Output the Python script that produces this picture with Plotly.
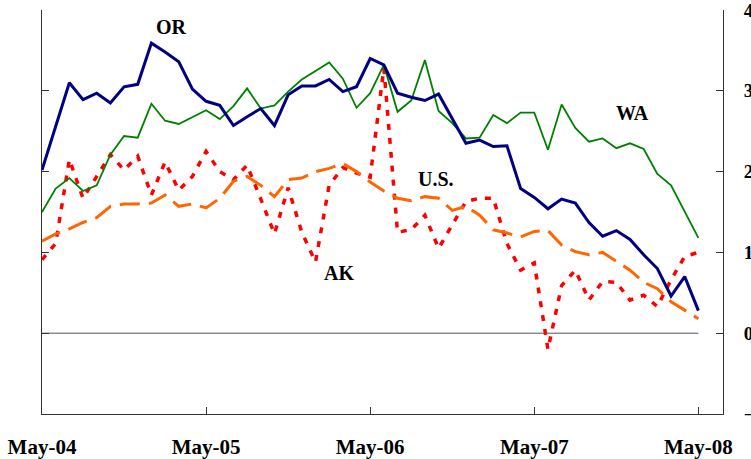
import plotly.graph_objects as go

months = list(range(49))
tick_vals = [0, 12, 24, 36, 48]
tick_text = ["May-04", "May-05", "May-06", "May-07", "May-08"]

OR = [2.02, 2.56, 3.10, 2.89, 2.97, 2.85, 3.05, 3.08, 3.59, 3.48,
      3.36, 3.02, 2.87, 2.82, 2.57, 2.68, 2.78, 2.57, 2.95, 3.06,
      3.06, 3.14, 2.99, 3.05, 3.40, 3.32, 2.97, 2.92, 2.88, 2.96,
      2.66, 2.35, 2.39, 2.31, 2.32, 1.79, 1.68, 1.54, 1.66, 1.61,
      1.37, 1.20, 1.27, 1.16, 0.97, 0.80, 0.46, 0.70, 0.28]
WA = [1.50, 1.79, 1.92, 1.76, 1.83, 2.21, 2.44, 2.42, 2.84, 2.63,
      2.59, 2.68, 2.76, 2.65, 2.81, 3.03, 2.78, 2.82, 2.99, 3.14,
      3.25, 3.35, 3.15, 2.79, 2.97, 3.32, 2.74, 2.88, 3.38, 2.75,
      2.60, 2.41, 2.42, 2.70, 2.60, 2.73, 2.73, 2.27, 2.83, 2.54,
      2.37, 2.41, 2.29, 2.35, 2.28, 1.97, 1.83, 1.50, 1.18]
US = [1.14, 1.23, 1.29, 1.37, 1.43, 1.57, 1.60, 1.60, 1.61, 1.71,
      1.57, 1.60, 1.55, 1.67, 1.88, 1.94, 1.83, 1.69, 1.90, 1.92,
      2.00, 2.04, 2.10, 2.00, 1.87, 1.76, 1.67, 1.64, 1.69, 1.67,
      1.52, 1.57, 1.46, 1.28, 1.24, 1.19, 1.26, 1.27, 1.09, 1.01,
      0.97, 1.00, 0.89, 0.78, 0.63, 0.55, 0.39, 0.29, 0.18]
AK = [0.91, 1.11, 2.15, 1.67, 1.94, 2.21, 2.02, 2.19, 1.71, 2.12,
      1.77, 1.94, 2.25, 2.00, 1.90, 2.08, 1.66, 1.23, 1.80, 1.25,
      0.88, 1.83, 2.05, 1.98, 1.93, 3.28, 1.25, 1.28, 1.46, 1.05,
      1.34, 1.63, 1.67, 1.67, 1.11, 0.78, 0.87, -0.20, 0.59, 0.78,
      0.41, 0.64, 0.63, 0.41, 0.47, 0.33, 0.66, 0.95, 1.00]

labels = ["OR", "WA", "U.S.", "AK"]
label_x = [9.44, 43.2, 28.8, 21.7]
label_y = [3.79, 2.73, 1.91, 0.74]

FONT = "Liberation Serif, Times New Roman, serif"

fig = go.Figure()
fig.add_trace(go.Scatter(x=[months[0], months[-1]], y=[0, 0], mode="lines",
                         line=dict(color="#555555", width=1), hoverinfo="skip"))
fig.add_trace(go.Scatter(x=months, y=AK, mode="lines", name="AK",
                         line=dict(color="#FF0000", width=3.5, dash="6px,8px")))
fig.add_trace(go.Scatter(x=months, y=US, mode="lines", name="U.S.",
                         line=dict(color="#FF6600", width=3, dash="20px,9px")))
fig.add_trace(go.Scatter(x=months, y=WA, mode="lines", name="WA",
                         line=dict(color="#008000", width=1.8)))
fig.add_trace(go.Scatter(x=months, y=OR, mode="lines", name="OR",
                         line=dict(color="#000080", width=3)))

for t, x, y in zip(labels, label_x, label_y):
    fig.add_annotation(x=x, y=y, text=f"<b>{t}</b>", showarrow=False,
                       font=dict(family=FONT, size=20, color="black"))

fig.update_layout(
    width=751, height=459,
    margin=dict(l=42, r=28, t=10, b=45),
    paper_bgcolor="white", plot_bgcolor="white",
    showlegend=False,
    xaxis=dict(range=[0, 49.8], showgrid=False, zeroline=False, automargin=False,
               showline=True, linecolor="#333333", linewidth=1,
               ticks="inside", ticklen=7, tickcolor="#333333",
               tickvals=tick_vals, ticktext=[f"<b>{t}</b>" for t in tick_text],
               tickfont=dict(family=FONT, size=21, color="black"),
               ticklabelstandoff=14, ticklabeloverflow="allow"),
    yaxis=dict(range=[-1, 4], dtick=1, side="right", showgrid=False, zeroline=False,
               automargin=False,
               showline=True, mirror="ticks", linecolor="#333333", linewidth=1,
               ticks="inside", ticklen=7, tickcolor="#333333",
               tickfont=dict(family=FONT, size=19, color="black", weight="bold"),
               ticklabelstandoff=16, ticklabeloverflow="allow"),
)

# remove the browser's default 8px page margin and any scrollbars
fig.write_html("out.html",
               config={"displayModeBar": False},
               post_script="document.body.style.margin='0';"
                           "document.body.style.overflow='hidden';")
